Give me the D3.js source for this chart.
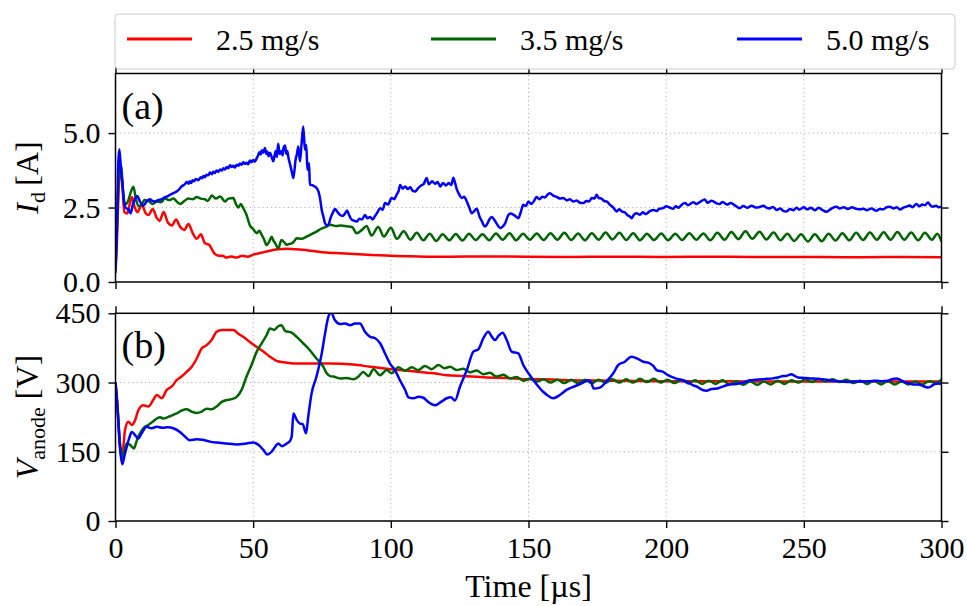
<!DOCTYPE html>
<html>
<head>
<meta charset="utf-8">
<script src="https://cdn.jsdelivr.net/npm/d3@7"></script>
<style>
  html, body { margin: 0; background: #fff; }
  svg { display: block; }
  text { font-family: "Liberation Serif", "Times New Roman", serif; fill: #000; }
</style>
</head>
<body>
<svg id="chart" width="967" height="606"></svg>
<script>
// ---- Series (time in µs) ----
const seriesNames = ["2.5 mg/s", "3.5 mg/s", "5.0 mg/s"];
const seriesColors = ["#ff0000", "#006400", "#0000ff"];

const xTicks = [0, 50, 100, 150, 200, 250, 300];
const idTicks = [0, 2.5, 5.0];
const idTickLabels = ["0.0", "2.5", "5.0"];
const vTicks = [0, 150, 300, 450];
const vTickLabels = ["0", "150", "300", "450"];

// Discharge current I_d [A]
const idRed = [[0,0.3],[0.5,1.3],[1.1,3.0],[1.8,3.8],[2.5,3.3],[3.2,2.35],[4.2,2.3],[5.0,2.55],[6.0,2.85],[7.0,2.5],[8.0,2.35],[9.5,2.6],[11.0,2.3],[12.0,2.25],[13.5,2.45],[15.0,2.15],[16.0,2.05],[17.5,2.35],[19.0,2.0],[20.5,1.9],[22.0,2.1],[23.5,1.85],[25.0,1.75],[26.5,1.95],[28.0,1.65],[29.5,1.45],[31.0,1.6],[32.5,1.3],[34.0,1.25],[35.0,1.1],[36.0,0.95],[37.5,0.88],[39.0,0.88],[40.0,0.82],[42,0.86],[44,0.82],[46,0.88],[48,0.85],[50,0.92],[53,0.98],[56,1.05],[59,1.1],[62,1.12],[65,1.1],[70,1.06],[75,1.0],[80,0.97],[90,0.92],[100,0.88],[110,0.86],[120,0.85],[135,0.86],[150,0.85],[165,0.84],[180,0.85],[200,0.84],[215,0.85],[230,0.84],[250,0.84],[265,0.83],[280,0.84],[300,0.83]];

const idGreen = [[0,0.4],[0.6,2.0],[1.3,3.7],[2.0,3.9],[2.8,3.0],[3.5,2.6],[4.5,2.7],[5.5,3.0],[6.5,3.2],[7.3,2.85],[8.3,2.55],[9.5,2.6],[10.5,2.75],[12,2.72],[13.5,2.62],[15,2.7],[16.5,2.68],[18,2.8],[19.5,2.75],[21,2.8],[22.5,2.68],[23.5,2.62],[25,2.72],[26.5,2.8],[28,2.78],[29.5,2.85],[31,2.8],[32.5,2.78],[33.5,2.72],[35,2.9],[36.5,2.8],[38,2.87],[39.8,2.7],[41,2.8],[42.8,2.82],[43.6,2.65],[44.6,2.5],[45.5,2.62],[46.4,2.48],[47.6,2.25],[48.8,1.9],[50,1.78],[51.3,1.64],[52.2,1.72],[53.1,1.58],[54,1.42],[54.9,1.24],[55.8,1.35],[56.7,1.52],[57.4,1.38],[58,1.3],[59.1,1.13],[60.3,1.41],[61.3,1.33],[62.2,1.25],[63,1.28],[64,1.3],[65,1.38],[65.8,1.47],[67.5,1.45],[69.4,1.52],[71,1.6],[73,1.69],[74.5,1.78],[76.7,1.86],[78,1.92],[80,1.88],[82,1.9],[84,1.87],[86,1.84],[87.5,1.64],[89.5,1.75],[91.2,1.88],[93,1.56],[95.4,1.85],[97.5,1.53],[100,1.82],[102.2,1.45],[104.7,1.70],[107.1,1.42],[109.4,1.65],[111.8,1.40],[114.1,1.62],[116.5,1.38],[118.8,1.60],[121.2,1.40],[123.6,1.61],[126,1.39],[128.4,1.62],[130.8,1.41],[133.3,1.60],[135.7,1.40],[138.2,1.63],[140.6,1.42],[143.1,1.64],[145.5,1.40],[148,1.62],[150.5,1.42],[153,1.63],[155.5,1.41],[158,1.64],[160.5,1.42],[163,1.65],[165.5,1.41],[168,1.63],[170.5,1.40],[173,1.64],[175.5,1.42],[178,1.66],[180.5,1.43],[183,1.65],[185.5,1.41],[188,1.64],[190.5,1.40],[193,1.62],[195.6,1.41],[198.2,1.63],[200.7,1.40],[203.3,1.62],[205.8,1.41],[208.4,1.64],[211,1.42],[213.5,1.63],[216,1.40],[218.6,1.65],[221.2,1.42],[223.7,1.68],[226.2,1.44],[228.8,1.70],[231.3,1.45],[233.9,1.69],[236.4,1.43],[239,1.66],[241.5,1.40],[244,1.62],[246.5,1.38],[249,1.60],[251.5,1.36],[254,1.60],[256.5,1.37],[259,1.62],[261.5,1.39],[264,1.64],[266.5,1.40],[269,1.65],[271.5,1.41],[274,1.66],[276.5,1.42],[279,1.67],[281.5,1.42],[284,1.68],[286.5,1.42],[289,1.66],[291.5,1.40],[294,1.65],[296.5,1.42],[298.5,1.62],[300,1.36]];

const idBlue = [[0,0.4],[0.4,1.5],[0.7,2.65],[1.0,4.0],[1.4,4.46],[2.0,3.77],[2.6,3.2],[3.1,2.65],[3.8,2.48],[4.7,2.44],[5.5,2.31],[6.3,2.6],[7.1,2.78],[7.9,2.89],[8.9,2.70],[10.1,2.56],[11.3,2.70],[12.5,2.78],[13.4,2.72],[14.3,2.70],[15.2,2.74],[16.2,2.76],[17.1,2.8],[18,2.85],[19,2.88],[19.8,2.93],[21,2.98],[22.2,3.04],[23.2,3.12],[24,3.21],[25.2,3.28],[25.8,3.36],[26.5,3.30],[27.0,3.38],[27.5,3.32],[28.0,3.42],[28.5,3.38],[29.2,3.46],[30.1,3.42],[31,3.52],[31.5,3.48],[31.9,3.56],[32.5,3.52],[33,3.6],[33.7,3.58],[34.3,3.68],[35,3.62],[35.5,3.7],[36.1,3.66],[36.7,3.74],[37.3,3.70],[38,3.78],[38.6,3.74],[39.2,3.82],[39.8,3.78],[40.4,3.86],[41,3.82],[41.6,3.92],[42.2,3.86],[42.8,3.9],[43.4,3.84],[44,3.94],[44.6,3.9],[45.2,3.98],[45.8,3.94],[46.4,4.02],[47,3.96],[47.6,4.0],[48.2,3.95],[48.8,4.08],[49.4,4.02],[50,4.1],[50.6,4.04],[51.3,4.16],[51.8,4.25],[52.2,4.36],[52.7,4.28],[53.1,4.42],[53.6,4.34],[54.3,4.5],[54.7,4.3],[55.1,4.38],[55.6,4.22],[56.1,4.34],[56.7,4.2],[57.3,4.05],[57.8,4.25],[58.2,4.4],[58.6,4.2],[59.1,4.64],[59.6,4.3],[60.3,4.4],[60.7,4.25],[61.0,4.5],[61.6,4.58],[62.0,4.3],[62.4,4.4],[62.8,4.18],[63.4,3.95],[64,3.71],[64.6,3.49],[65.4,4.10],[65.9,4.3],[66.4,4.55],[67,4.05],[67.6,4.66],[68.2,5.22],[68.8,4.44],[69.3,4.6],[69.7,3.77],[70.3,3.99],[70.6,3.26],[71.5,3.25],[72.5,3.2],[73.3,3.12],[73.7,3.04],[74.3,2.8],[74.9,2.42],[75.5,2.2],[76.1,1.97],[76.8,1.9],[77.5,1.95],[77.9,2.09],[78.8,2.3],[79.7,2.45],[80.6,2.35],[81.6,2.25],[82.5,2.22],[83.2,2.28],[84.1,2.4],[84.6,2.3],[85.8,2.09],[86.7,2.06],[87.6,2.03],[88.6,2.12],[89.5,2.1],[90.6,2.25],[91.5,2.14],[92.5,2.18],[93.4,2.1],[94.3,2.22],[95.2,2.35],[96.1,2.48],[97,2.42],[97.9,2.65],[99,2.6],[100.3,2.82],[101.2,2.78],[102.1,2.93],[102.8,3.05],[103.4,3.26],[104.3,3.14],[105.2,3.21],[106.2,3.12],[107,3.18],[108,3.06],[108.8,3.04],[110,3.16],[111,3.24],[112,3.3],[113,3.49],[113.8,3.28],[115,3.38],[116.1,3.3],[117,3.36],[117.9,3.21],[119,3.32],[120,3.24],[121,3.32],[122,3.26],[122.7,3.5],[123.4,3.3],[124,3.1],[124.8,2.95],[125.7,2.82],[126.6,2.86],[127.6,2.70],[128.5,2.5],[129.4,2.31],[130.3,2.38],[131.2,2.46],[132.2,2.2],[133,2.05],[134.2,1.86],[135,1.95],[135.8,2.1],[136.6,2.18],[137.5,2.1],[138.5,1.95],[139.7,1.81],[140.6,1.86],[141.5,1.97],[142.7,2.25],[143.6,2.3],[144.5,2.26],[145.4,2.2],[146.3,2.14],[147.2,2.35],[148.1,2.59],[149,2.55],[150,2.7],[151,2.62],[152,2.72],[152.9,2.85],[154,2.78],[155,2.86],[156,2.84],[157,2.94],[157.8,2.98],[159,2.9],[160.2,2.86],[161.5,2.8],[162.6,2.82],[164,2.74],[165,2.78],[166.3,2.70],[167.5,2.74],[168.7,2.66],[169.9,2.65],[171,2.72],[172,2.7],[173,2.82],[174,2.8],[174.7,2.93],[175.5,2.82],[176.5,2.8],[177.5,2.72],[178.5,2.7],[179.6,2.59],[180.8,2.5],[182,2.37],[183,2.44],[184,2.36],[185,2.34],[186,2.24],[186.8,2.2],[187.5,2.14],[188.3,2.26],[189.2,2.31],[190.5,2.26],[191.5,2.34],[192.5,2.28],[194.1,2.38],[195.5,2.42],[196.5,2.38],[197.5,2.46],[198.9,2.48],[200,2.54],[201.3,2.5],[202.5,2.46],[203.5,2.54],[204.5,2.49],[205.5,2.58],[206.8,2.65],[208,2.58],[209.8,2.68],[211,2.62],[212.5,2.7],[214,2.77],[215,2.66],[216.5,2.73],[218.3,2.64],[219.5,2.62],[220.5,2.69],[222,2.6],[223.5,2.65],[225,2.57],[226.7,2.48],[228,2.55],[229.5,2.49],[231,2.56],[232.5,2.5],[234,2.52],[235.3,2.56],[236.4,2.5],[237.5,2.47],[238.8,2.52],[240.1,2.42],[241.5,2.47],[242.5,2.39],[243.7,2.37],[245,2.45],[246.2,2.41],[247.3,2.49],[248.5,2.43],[250,2.51],[251.2,2.44],[252.5,2.49],[254,2.41],[255.3,2.49],[256.5,2.43],[258.2,2.36],[259.5,2.43],[260.5,2.49],[261.8,2.53],[263,2.47],[264.5,2.51],[266,2.45],[267.5,2.51],[269,2.46],[270.5,2.44],[271.5,2.46],[273,2.41],[274.5,2.47],[276.4,2.39],[277.5,2.45],[279,2.44],[280,2.51],[281.2,2.53],[282.5,2.47],[283.8,2.51],[285,2.43],[286,2.49],[287.3,2.53],[288.5,2.57],[289.5,2.51],[290.9,2.62],[292,2.54],[293,2.6],[294,2.58],[295.1,2.67],[296,2.57],[296.9,2.53],[298,2.56],[299,2.51],[300,2.53]];

// Anode voltage V_anode [V]
const vRed = [[0,300],[0.6,260],[1.3,190],[2.3,136],[3.0,170],[3.45,197],[4.7,215],[5.9,208],[7.1,218],[8.3,240],[10.1,251],[11.9,248],[13.7,262],[15,273],[16.8,266],[18.6,284],[20.4,291],[22.2,305],[24,313],[25.8,323],[27.7,334],[29.5,352],[31.3,374],[33.1,381],[34.9,392],[36.7,410],[38.6,414],[41,414],[42.8,414],[44.6,406],[46.4,399],[48.8,388],[51.3,377],[53.7,367],[56.1,356],[58.5,347],[61,344],[65.8,341],[70.6,341],[78,341],[86.4,339],[92.5,334],[100,329],[107,325],[115.5,320],[120.3,316],[126.3,314],[134.8,311],[142.1,310],[149.3,307],[154.2,307],[165,305],[180,304],[200,303],[220,303],[240,302],[260,302],[280,302],[300,302]];

const vGreen = [[0,300],[0.8,240],[1.6,170],[2.5,139],[3.3,155],[4.1,168],[5.3,165],[6.7,157],[7.5,170],[8.3,183],[10.1,201],[11.9,208],[13.5,215],[15,222],[16.2,225],[17.4,222],[18.6,224],[19.8,227],[22.2,233],[24,239],[25.8,242],[27.7,237],[29.5,234],[31.3,237],[33.1,243],[34.9,242],[36.7,248],[38.6,258],[40.4,262],[42.2,264],[44,269],[45.8,284],[47.6,313],[49.4,338],[51.3,367],[53.1,385],[54.9,403],[56.1,417],[57.6,414],[59.1,422],[60.3,424],[61.6,412],[64,408],[65.8,399],[68.2,385],[70.6,370],[73,352],[75.5,334],[76.7,320],[78,314],[79.1,313],[81.6,309],[84,310],[86.4,307],[88.2,313],[90,323],[91.9,314],[93.7,329],[96.1,316],[98.5,327],[100.3,320],[102.7,333],[105.2,326],[107.6,333],[110,327],[112.4,336],[114.8,329],[117.3,338],[119.5,331],[121.5,334],[124,327],[126.3,330],[128.8,322],[131.2,326],[133.6,318],[136,321],[138.4,313],[140.9,317],[143.3,309],[145.7,312],[148.1,304],[150.5,308],[153,302],[155.5,307],[158,300],[160.5,306],[163,299],[165.5,306],[168,299],[170.5,306],[173,299],[175.5,306],[178,300],[180.5,307],[183,300],[185.5,307],[188,300],[190.5,308],[193,301],[195.5,308],[198,300],[200.5,306],[203,299],[205.5,306],[208,298],[210.5,305],[213,297],[215.5,304],[218,297],[220.5,305],[223,296],[225.5,303],[228,295],[230.5,303],[233,295],[235.5,302],[238,296],[240.5,304],[243,297],[245.5,305],[248,300],[250.5,307],[253,301],[255.5,308],[258,302],[260.5,307],[263,301],[265.5,306],[268,299],[270.5,304],[273,297],[275.5,304],[278,296],[280.5,303],[283,296],[285.5,302],[288,296],[290.5,302],[293,296],[295.5,303],[298,299],[300,307]];

const vBlue = [[0,300],[0.8,240],[1.6,160],[2.5,123],[3.2,140],[4.1,161],[5.0,180],[5.9,193],[7.1,186],[8.3,179],[9.5,190],[11.3,204],[13.1,201],[15,204],[17,202],[19,203],[21,201],[23.4,193],[25.2,183],[27,175],[29.5,177],[31.5,176],[34.3,172],[36.7,170],[40.4,168],[44,166],[47.6,168],[50,170],[51.9,165],[53.7,154],[55.1,144],[56.7,150],[58,161],[59.1,168],[60.5,162],[62.2,168],[63.2,172],[64,183],[64.6,233],[65.8,219],[67,211],[68,210],[69.2,190],[70,226],[71.2,276],[73,313],[74.9,363],[76.1,406],[77.3,442],[78.3,452],[79.7,435],[81.6,427],[83.4,428],[85.2,424],[87,428],[88.8,428],[90.6,410],[92.5,399],[94.3,396],[96.1,385],[97.9,363],[99.7,341],[101.5,327],[103.3,305],[105.2,284],[106.4,268],[108.2,266],[110,269],[111.8,267],[113.6,258],[116.1,251],[118.2,258],[120.3,266],[121.8,268],[123.3,261],[125.1,291],[127.6,327],[130,367],[131.8,372],[133.6,396],[135.4,410],[136.6,400],[137.8,392],[139.2,402],[140.6,408],[142.1,392],[143.9,367],[146.3,363],[148.1,338],[150,320],[151.8,305],[153.5,292],[155.3,280],[157,272],[159,266],[161.4,273],[163.8,284],[166.8,292],[169.3,298],[171.7,305],[172.7,301],[173.7,287],[175.9,289],[178.3,302],[180.8,320],[182.6,338],[185,345],[187.4,356],[189.5,352],[191.7,345],[193.5,343],[195.3,336],[196.5,327],[198.9,323],[200.7,316],[202.5,311],[204,308],[206.2,305],[208,300],[209.8,294],[211.5,290],[212.2,287],[214.6,282],[216.5,286],[218.5,287],[220,290],[221.9,294],[223.5,296],[225.5,297],[228,300],[230.4,305],[232.5,306],[234.6,307],[236.5,308],[238.8,309],[240.5,311],[242.5,314],[244,315],[245.5,318],[246.5,315],[247.9,311],[250,310],[252.2,309],[255,308],[257,307],[259.4,305],[261,304],[263,302],[266,301],[268.5,302],[271.5,302],[274,303],[276.4,304],[278.5,303],[280.5,304],[282,307],[283.6,309],[285,306],[286.5,301],[288,299],[289.7,296],[291.5,296],[293.5,292],[295.1,289],[296.3,292],[297.5,297],[299,298],[300,297]];

// ---- Layout ----
const svg = d3.select("#chart");
const x = d3.scaleLinear().domain([0, 300]).range([115.5, 941.5]);

const panels = [
  { id: "a", y: d3.scaleLinear().domain([0, 7]).range([282, 73.5]),
    ticks: idTicks, labels: idTickLabels, series: [idRed, idGreen, idBlue],
    showX: false, tag: "(a)", tagY: 119 },
  { id: "b", y: d3.scaleLinear().domain([0, 450]).range([521, 313.3]),
    ticks: vTicks, labels: vTickLabels, series: [vRed, vGreen, vBlue],
    showX: true, tag: "(b)", tagY: 358 }
];

const FONT = 30;
const tickLen = 7;

panels.forEach(p => {
  const [y0, y1] = p.y.range();
  const [x0, x1] = x.range();
  const g = svg.append("g");

  g.append("clipPath").attr("id", "clip-" + p.id)
    .append("rect").attr("x", x0).attr("y", y1).attr("width", x1 - x0).attr("height", y0 - y1);

  // dotted grid
  const grid = g.append("g").attr("stroke", "#b0b0b0").attr("stroke-width", 1)
    .attr("stroke-dasharray", "1.2,3");
  grid.selectAll("line.gx").data(xTicks.slice(1, -1)).join("line")
    .attr("x1", d => x(d)).attr("x2", d => x(d)).attr("y1", y0).attr("y2", y1);
  grid.selectAll("line.gy").data(p.ticks.filter(t => p.y(t) < y0 - 1 && p.y(t) > y1 + 1)).join("line")
    .attr("y1", d => p.y(d)).attr("y2", d => p.y(d)).attr("x1", x0).attr("x2", x1);

  // data lines
  const line = d3.line().x(d => x(d[0])).y(d => p.y(d[1])).curve(d3.curveMonotoneX);
  const lines = g.append("g").attr("clip-path", `url(#clip-${p.id})`);
  p.series.forEach((s, i) => {
    lines.append("path").datum(s)
      .attr("d", line).attr("fill", "none")
      .attr("stroke", seriesColors[i]).attr("stroke-width", 2.5)
      .attr("stroke-linejoin", "round");
  });

  // axes
  const styleAxis = sel => {
    sel.select(".domain").remove();
    sel.selectAll(".tick line").attr("stroke", "#000").attr("stroke-width", 1.4);
    sel.selectAll(".tick text").style("font-size", FONT + "px")
      .style("font-family", '"Liberation Serif", serif');
  };
  g.append("g").attr("transform", `translate(0,${y0})`)
    .call(d3.axisBottom(x).tickValues(xTicks).tickSize(tickLen).tickPadding(9)
      .tickFormat(p.showX ? d3.format("d") : () => ""))
    .call(styleAxis);
  g.append("g").attr("transform", `translate(0,${y1})`)
    .call(d3.axisTop(x).tickValues(xTicks).tickSize(tickLen).tickFormat(() => ""))
    .call(styleAxis);
  g.append("g").attr("transform", `translate(${x0},0)`)
    .call(d3.axisLeft(p.y).tickValues(p.ticks).tickSize(tickLen).tickPadding(8)
      .tickFormat((d, i) => p.labels[i]))
    .call(styleAxis);
  g.append("g").attr("transform", `translate(${x1},0)`)
    .call(d3.axisRight(p.y).tickValues(p.ticks).tickSize(tickLen).tickFormat(() => ""))
    .call(styleAxis);

  // frame
  g.append("rect").attr("x", x0).attr("y", y1).attr("width", x1 - x0).attr("height", y0 - y1)
    .attr("fill", "none").attr("stroke", "#000").attr("stroke-width", 1.5);

  // panel tag
  g.append("text").attr("x", x0 + 6).attr("y", p.tagY)
    .style("font-size", "38px").text(p.tag);
});

// y labels
const yl1 = svg.append("text").attr("transform", "translate(38,177.5) rotate(-90)")
  .attr("text-anchor", "middle").style("font-size", "32px");
yl1.append("tspan").style("font-style", "italic").text("I");
yl1.append("tspan").attr("dy", 7).style("font-size", "22px").text("d");
yl1.append("tspan").attr("dy", -7).text("\u2009[A]");

const yl2 = svg.append("text").attr("transform", "translate(38,417) rotate(-90)")
  .attr("text-anchor", "middle").style("font-size", "32px");
yl2.append("tspan").style("font-style", "italic").text("V");
yl2.append("tspan").attr("dy", 7).style("font-size", "22px").text("anode");
yl2.append("tspan").attr("dy", -7).text(" [V]");

// x label
svg.append("text").attr("x", (x.range()[0] + x.range()[1]) / 2).attr("y", 597)
  .attr("text-anchor", "middle").style("font-size", "32px").text("Time [\u00b5s]");

// legend
const lg = svg.append("g");
lg.append("rect").attr("x", 115).attr("y", 14).attr("width", 840).attr("height", 55)
  .attr("rx", 4).attr("fill", "#fff").attr("fill-opacity", 0.9)
  .attr("stroke", "#cccccc").attr("stroke-width", 1);
const legendX = [127, 431, 737];
seriesNames.forEach((n, i) => {
  lg.append("line").attr("x1", legendX[i]).attr("x2", legendX[i] + 65)
    .attr("y1", 39).attr("y2", 39)
    .attr("stroke", seriesColors[i]).attr("stroke-width", 3);
  lg.append("text").attr("x", legendX[i] + 89).attr("y", 50)
    .style("font-size", FONT + "px").text(n);
});
</script>
</body>
</html>
